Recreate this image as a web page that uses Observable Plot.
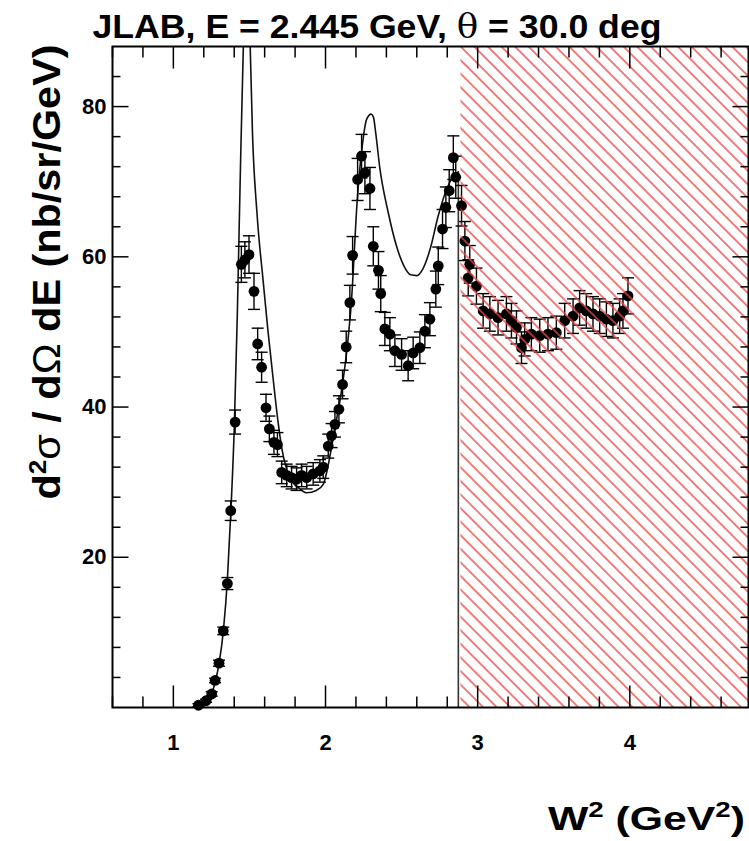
<!DOCTYPE html>
<html>
<head>
<meta charset="utf-8">
<script src="https://cdn.jsdelivr.net/npm/d3@7"></script>
<script src="https://cdn.jsdelivr.net/npm/@observablehq/plot@0.6"></script>
<style>
  body { margin: 0; background: #fff; }
  #chart { position: relative; width: 749px; height: 841px; }
  #chart svg { display: block; }
  #chart svg.frame-layer { position: absolute; left: 0; top: 0; pointer-events: none; }
</style>
</head>
<body>
<div id="chart"></div>
<script>
// Inclusive cross section, E = 2.445 GeV, theta = 30 deg
const w2 = [
  1.165, 1.215, 1.252, 1.274, 1.300, 1.328, 1.355, 1.377, 1.406, 1.447,
  1.470, 1.497, 1.530, 1.554, 1.580, 1.609, 1.631, 1.661, 1.684, 1.712,
  1.745, 1.777, 1.810, 1.843, 1.876, 1.919, 1.963, 1.985, 2.018, 2.040,
  2.062, 2.088, 2.112, 2.136, 2.160, 2.178, 2.211, 2.237, 2.259, 2.292,
  2.314, 2.348, 2.363, 2.390, 2.423, 2.456, 2.500, 2.543, 2.576, 2.620,
  2.653, 2.686, 2.725, 2.741, 2.769, 2.791, 2.813, 2.840, 2.856, 2.894,
  2.916, 2.938, 2.948, 2.992, 3.036, 3.080, 3.134, 3.189, 3.222, 3.255,
  3.288, 3.309, 3.353, 3.408, 3.462, 3.517, 3.572, 3.627, 3.670, 3.714,
  3.758, 3.802, 3.846, 3.889, 3.933, 3.955, 3.988
];
const xsec = [
  0.3, 0.9, 1.8, 3.6, 5.9, 10.2, 16.5, 26.2, 38.0, 59.0,
  59.6, 60.3, 55.4, 48.4, 45.3, 39.9, 37.1, 35.3, 35.0, 31.3,
  30.9, 30.6, 30.4, 30.9, 30.6, 31.1, 31.5, 32.0, 34.8, 36.2,
  37.7, 39.7, 43.0, 48.0, 53.9, 60.2, 70.3, 73.4, 71.2, 69.1,
  61.4, 58.2, 55.1, 50.4, 49.7, 47.5, 47.0, 45.5, 47.2, 47.9,
  50.1, 51.7, 55.7, 58.8, 63.7, 66.6, 68.8, 73.2, 70.6, 66.8,
  62.1, 57.2, 59.0, 56.1, 52.8, 52.4, 51.9, 52.4, 51.5, 50.6,
  47.9, 49.0, 49.7, 49.5, 49.7, 49.9, 51.5, 52.1, 53.2, 52.8,
  52.4, 52.1, 51.7, 51.5, 52.1, 52.8, 54.8
];
const xsecErr = [
  0.2, 0.2, 0.3, 0.3, 0.4, 0.5, 0.8, 1.3, 1.6, 2.4,
  2.4, 2.5, 2.4, 2.1, 2.0, 1.8, 1.7, 1.6, 1.6, 1.5,
  1.5, 1.5, 1.5, 1.5, 1.5, 1.5, 1.5, 1.5, 1.6, 1.6,
  1.7, 1.8, 1.9, 2.1, 2.3, 2.5, 2.8, 2.9, 2.8, 2.8,
  2.6, 2.5, 2.4, 2.2, 2.2, 2.1, 2.1, 2.0, 2.1, 2.1,
  2.2, 2.2, 2.4, 2.5, 2.6, 2.7, 2.8, 2.9, 2.8, 2.7,
  2.6, 2.4, 2.5, 2.4, 2.3, 2.3, 2.3, 2.3, 2.3, 2.2,
  2.1, 2.2, 2.2, 2.2, 2.2, 2.2, 2.3, 2.3, 2.3, 2.3,
  2.3, 2.3, 2.3, 2.3, 2.3, 2.3, 2.4
];

// Model calculation (solid line)
const modelW2 = [
  1.15, 1.18, 1.22, 1.25, 1.28, 1.30, 1.33, 1.355, 1.38, 1.40,
  1.42, 1.44, 1.46, 1.475, 1.49, 1.505, 1.52, 1.55, 1.59, 1.622,
  1.655, 1.687, 1.712, 1.766, 1.832, 1.876, 1.94, 1.985, 2.02, 2.06,
  2.10, 2.14, 2.17, 2.21, 2.24, 2.27, 2.30, 2.315, 2.33, 2.357,
  2.41, 2.47, 2.52, 2.56, 2.60, 2.64, 2.69, 2.74, 2.80, 2.84,
  2.873
];
const modelXsec = [
  0.0, 0.4, 1.0, 1.8, 3.8, 5.8, 10.5, 17.0, 27.0, 37.0,
  52.0, 71.0, 88.0, 96.0, 97.0, 88.0, 76.5, 65.7, 56.8, 50.1,
  43.9, 38.2, 34.6, 30.6, 29.1, 28.6, 28.9, 29.7, 32.5, 37.0,
  41.5, 47.5, 54.0, 68.0, 74.5, 78.3, 79.0, 78.6, 76.5, 71.8,
  66.1, 61.2, 58.6, 57.6, 57.5, 58.4, 61.2, 65.4, 69.2, 70.7,
  71.3
];

// Excluded kinematic region (hatched)
const hatchFromW2 = 2.89;

const xDomain = [0.6, 4.78];
const yDomain = [0, 88];
const xMajorTicks = [1, 2, 3, 4];
const yMajorTicks = [20, 40, 60, 80];
const xMinorTicks = d3.range(3, 24).filter(i => i % 5 !== 0).map(i => i / 5);
const yMinorTicks = d3.range(4, 88, 4).filter(v => v % 20 !== 0);

const points = w2.map((x, i) => ({x, y: xsec[i], lo: xsec[i] - xsecErr[i], hi: xsec[i] + xsecErr[i]}));
const model = modelW2.map((x, i) => ({x, y: modelXsec[i]}));
const modelEnd = model[model.length - 1];

// symbol helpers: the dot radius r becomes the stroke length
const lenOf = size => Math.sqrt(size / Math.PI);
const capSymbol = {draw(c, s) { const r = lenOf(s); c.moveTo(-r, 0); c.lineTo(r, 0); }};
const tickUp    = {draw(c, s) { c.moveTo(0, 0); c.lineTo(0, -lenOf(s)); }};
const tickDown  = {draw(c, s) { c.moveTo(0, 0); c.lineTo(0, lenOf(s)); }};
const tickRight = {draw(c, s) { c.moveTo(0, 0); c.lineTo(lenOf(s), 0); }};
const tickLeft  = {draw(c, s) { c.moveTo(0, 0); c.lineTo(-lenOf(s), 0); }};
const tickStyle = {stroke: "#000", strokeWidth: 1.5, fill: "none"};

const FONT = "'Liberation Sans', Arial, Helvetica, sans-serif";
const plain = d => String(d);

// shared geometry of both layers
const layout = {
  width: 749,
  height: 841,
  marginLeft: 112,
  marginRight: 1,
  marginTop: 46,
  marginBottom: 134,
  x: {domain: xDomain, axis: null},
  y: {domain: yDomain, axis: null}
};

// data layer
const plot = Plot.plot({
  ...layout,
  style: {fontFamily: FONT, color: "#000", background: "#fff", overflow: "visible"},
  marks: [
    // model curve, dropping to zero at its end
    Plot.line(model, {x: "x", y: "y", curve: "monotone-x", stroke: "#111", strokeWidth: 1.6, clip: true}),
    Plot.ruleX([modelEnd], {x: "x", y1: 0, y2: "y", stroke: "#333", strokeWidth: 1.6}),
    // data with error bars
    Plot.ruleX(points, {x: "x", y1: "lo", y2: "hi", stroke: "#000", strokeWidth: 1.4}),
    Plot.dot(points, {x: "x", y: "lo", symbol: capSymbol, r: 6, stroke: "#000", strokeWidth: 1.4, fill: "none"}),
    Plot.dot(points, {x: "x", y: "hi", symbol: capSymbol, r: 6, stroke: "#000", strokeWidth: 1.4, fill: "none"}),
    Plot.dot(points, {x: "x", y: "y", r: 5.4, fill: "#000", stroke: "none"}),
    // hatched excluded region
    Plot.rect([{x1: hatchFromW2, x2: xDomain[1]}], {x1: "x1", x2: "x2", y1: yDomain[0], y2: yDomain[1], fill: "url(#hatch)"}),
    // tick labels
    Plot.axisX({anchor: "bottom", ticks: xMajorTicks, tickSize: 0, tickPadding: 27, tickFormat: plain, label: null, fontSize: 22, fontWeight: "bold"}),
    Plot.axisY({anchor: "left", ticks: yMajorTicks, tickSize: 0, tickPadding: 6, tickFormat: plain, label: null, fontSize: 22, fontWeight: "bold"})
  ]
});

// frame layer: box and inward ticks on all four sides
const frameLayer = Plot.plot({
  ...layout,
  style: {color: "#000", background: "transparent", overflow: "visible"},
  marks: [
    Plot.frame({stroke: "#000", strokeWidth: 2}),
    Plot.dot(xMajorTicks, {x: d => d, y: () => yDomain[0], symbol: tickUp, r: 22, ...tickStyle}),
    Plot.dot(xMajorTicks, {x: d => d, y: () => yDomain[1], symbol: tickDown, r: 22, ...tickStyle}),
    Plot.dot(xMinorTicks, {x: d => d, y: () => yDomain[0], symbol: tickUp, r: 11, ...tickStyle}),
    Plot.dot(xMinorTicks, {x: d => d, y: () => yDomain[1], symbol: tickDown, r: 11, ...tickStyle}),
    Plot.dot(yMajorTicks, {y: d => d, x: () => xDomain[0], symbol: tickRight, r: 16, ...tickStyle}),
    Plot.dot(yMajorTicks, {y: d => d, x: () => xDomain[1], symbol: tickLeft, r: 16, ...tickStyle}),
    Plot.dot(yMinorTicks, {y: d => d, x: () => xDomain[0], symbol: tickRight, r: 8, ...tickStyle}),
    Plot.dot(yMinorTicks, {y: d => d, x: () => xDomain[1], symbol: tickLeft, r: 8, ...tickStyle})
  ]
});
frameLayer.classList.add("frame-layer");

const svg = d3.select(plot);

// diagonal red hatching
const defs = svg.append("defs");
const pat = defs.append("pattern")
  .attr("id", "hatch")
  .attr("patternUnits", "userSpaceOnUse")
  .attr("width", 9.6)
  .attr("height", 9.6)
  .attr("patternTransform", "rotate(45)");
pat.append("line")
  .attr("x1", 0).attr("x2", 9.6)
  .attr("y1", 4.8).attr("y2", 4.8)
  .attr("stroke", "#ee4640")
  .attr("stroke-width", 1.4);

// title
const title = svg.append("text")
  .attr("x", 377).attr("y", 38)
  .attr("text-anchor", "middle")
  .attr("font-family", FONT)
  .attr("font-weight", "bold")
  .attr("font-size", 34)
  .attr("textLength", 569)
  .attr("lengthAdjust", "spacingAndGlyphs")
  .attr("fill", "#000");
title.append("tspan").text("JLAB, E = 2.445 GeV, ");
title.append("tspan").attr("font-weight", "normal").attr("font-family", "'DejaVu Serif', 'Liberation Serif', serif").text("θ");
title.append("tspan").text(" = 30.0 deg");

// y-axis title
const ylab = svg.append("text")
  .attr("transform", "translate(60,272) rotate(-90)")
  .attr("text-anchor", "middle")
  .attr("font-family", FONT)
  .attr("font-weight", "bold")
  .attr("font-size", 38)
  .attr("textLength", 455)
  .attr("lengthAdjust", "spacingAndGlyphs")
  .attr("fill", "#000");
ylab.append("tspan").text("d");
ylab.append("tspan").attr("font-size", 24).attr("dy", -14).text("2");
ylab.append("tspan").attr("dy", 14).attr("font-weight", "normal").text("σ");
ylab.append("tspan").text(" / d");
ylab.append("tspan").attr("font-weight", "normal").text("Ω");
ylab.append("tspan").text(" dE (nb/sr/GeV)");

// x-axis title
const xlab = svg.append("text")
  .attr("x", 745).attr("y", 830)
  .attr("text-anchor", "end")
  .attr("font-family", FONT)
  .attr("font-weight", "bold")
  .attr("font-size", 34)
  .attr("textLength", 197)
  .attr("lengthAdjust", "spacingAndGlyphs")
  .attr("fill", "#000");
xlab.append("tspan").text("W");
xlab.append("tspan").attr("font-size", 22).attr("dy", -13).text("2");
xlab.append("tspan").attr("dy", 13).text(" (GeV");
xlab.append("tspan").attr("font-size", 22).attr("dy", -13).text("2");
xlab.append("tspan").attr("dy", 13).text(")");

const chart = document.getElementById("chart");
chart.appendChild(plot);
chart.appendChild(frameLayer);
</script>
</body>
</html>
